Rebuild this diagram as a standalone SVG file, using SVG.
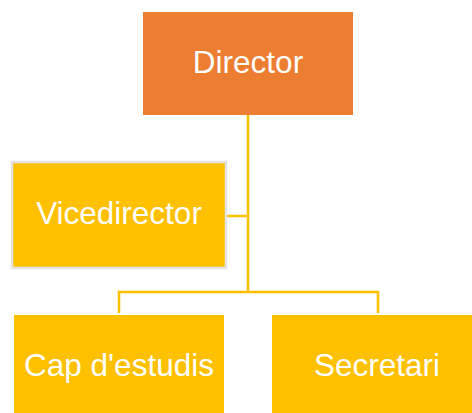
<svg xmlns="http://www.w3.org/2000/svg" width="472" height="413" viewBox="0 0 472 413">
<style>
.box{fill:#FFC000}
.lbl{font-family:"Liberation Sans",Arial,sans-serif;font-size:31.5px;fill:#fff;text-anchor:middle}
.con{fill:none;stroke:#FFC000;stroke-width:2.5}
</style>
<rect width="472" height="413" fill="#fff"/>
<g id="connectors">
<path class="con" d="M248,115 V292"/>
<path class="con" d="M227,216 H248"/>
<path class="con" d="M119,313 V292 H378 V313"/>
</g>
<g id="director">
<rect x="143" y="12" width="210" height="103" fill="#ED7D31"/>
<text class="lbl" x="248" y="73">Director</text>
</g>
<g id="vicedirector">
<rect x="12" y="162" width="214" height="106" class="box" stroke="#E3E3E3" stroke-width="2.5"/>
<text class="lbl" x="119" y="224">Vicedirector</text>
</g>
<g id="cap">
<rect x="14" y="315" width="210" height="103" class="box"/>
<text class="lbl" x="119" y="376">Cap d'estudis</text>
</g>
<g id="secretari">
<rect x="272" y="315" width="210" height="103" class="box"/>
<text class="lbl" x="377" y="376">Secretari</text>
</g>
</svg>
